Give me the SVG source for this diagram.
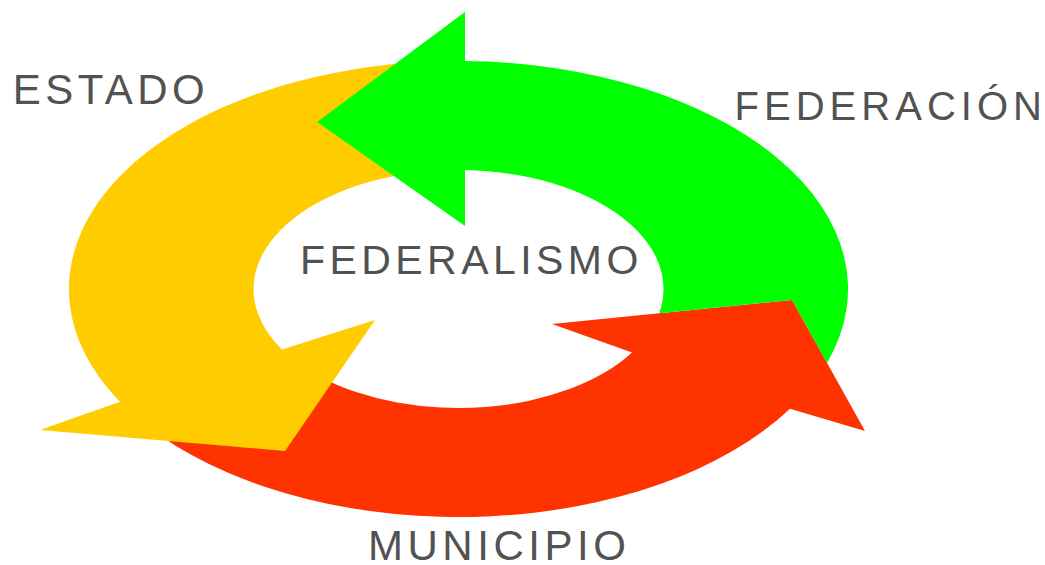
<svg xmlns="http://www.w3.org/2000/svg" width="1045" height="565" viewBox="0 0 1045 565">
  <style>
    .lbl { font-family: "Liberation Sans", Arial, sans-serif; fill: #525252; }
    .big { font-size: 42px; }
    .mid { font-size: 41px; }
    .sm { font-size: 40px; }
  </style>
  <rect width="1045" height="565" fill="#ffffff"/>
  <g id="connectors">
    <path id="arrow-municipio" fill="#FF3300" d="M 160,435.5 A 389.5 228 0 0 0 790,408.7 L 865,431 L 792,300 L 552,324 L 632,352.4 A 205 119 0 0 1 320,376.7 Z"/>
    <path id="arrow-estado" fill="#FFCC00" d="M 430,61.6 A 389.5 228 0 0 0 120,401.8 L 40,430 L 285,451 L 375,320 L 282,349.5 A 205 119 0 0 1 430,171.2 Z"/>
    <path id="arrow-federacion" fill="#00FF00" d="M 465,61 A 389.5 228 0 0 1 827,362.9 L 792,300 L 659.2,313.3 A 205 119 0 0 0 465,170.1 L 465,226 L 317,122 L 465,12 Z"/>
  </g>
  <g id="node-estado">
    <text class="lbl big" x="12.7" y="103.5" textLength="192" lengthAdjust="spacing">ESTADO</text>
  </g>
  <g id="node-federacion">
    <text class="lbl sm" x="734.5" y="120" textLength="307.5" lengthAdjust="spacing">FEDERACIÓN</text>
  </g>
  <g id="node-federalismo">
    <text class="lbl mid" x="300" y="273.5" textLength="338.3" lengthAdjust="spacing">FEDERALISMO</text>
  </g>
  <g id="node-municipio">
    <text class="lbl big" x="368" y="560" textLength="257.8" lengthAdjust="spacing">MUNICIPIO</text>
  </g>
</svg>
